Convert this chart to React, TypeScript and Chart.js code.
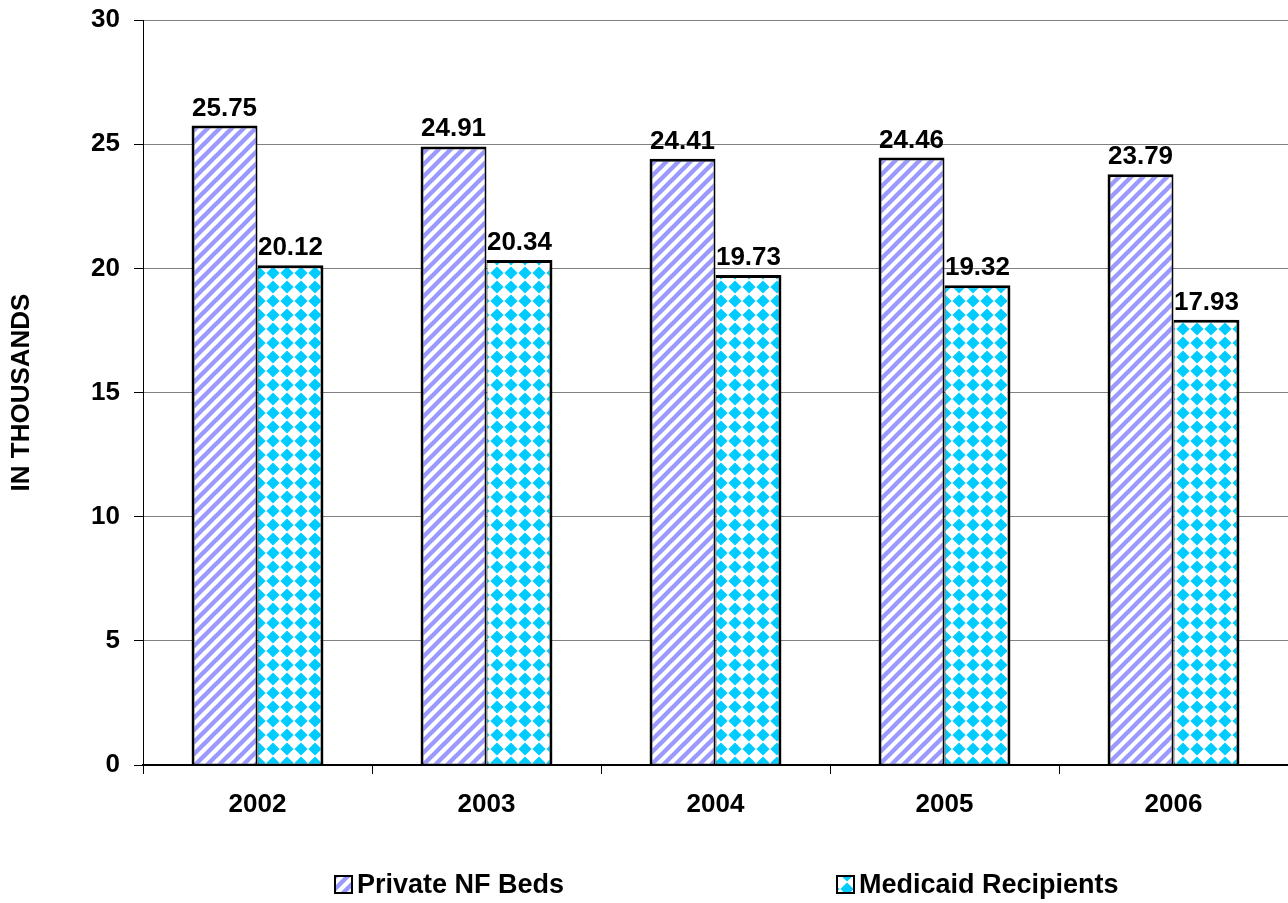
import React, { useEffect, useRef } from "react";
import { Chart, registerables } from "chart.js";

Chart.register(...registerables);

const categories = ["2002", "2003", "2004", "2005", "2006"];
const privateBeds = [25.75, 24.91, 24.41, 24.46, 23.79];
const medicaidRecipients = [20.12, 20.34, 19.73, 19.32, 17.93];
const seriesNames = ["Private NF Beds", "Medicaid Recipients"];
const yAxisTitle = "IN THOUSANDS";
const yMin = 0;
const yMax = 30;
const yStep = 5;

const FONT = 'Arial, "Liberation Sans", sans-serif';
const STRIPE = "#9999FF";
const CYAN = "#00CCFF";

function makeStripePattern(ctx: CanvasRenderingContext2D) {
  const c = document.createElement("canvas");
  const s = 12;
  c.width = s;
  c.height = s;
  const g = c.getContext("2d")!;
  g.fillStyle = "#fff";
  g.fillRect(0, 0, s, s);
  g.strokeStyle = STRIPE;
  g.lineWidth = 4.4;
  const lines = [
    [-s / 2, s / 2, s / 2, -s / 2],
    [-1, s + 1, s + 1, -1],
    [s / 2, s * 1.5, s * 1.5, s / 2],
  ];
  for (const [a, b, c2, d] of lines) {
    g.beginPath();
    g.moveTo(a, b);
    g.lineTo(c2, d);
    g.stroke();
  }
  return ctx.createPattern(c, "repeat")!;
}

function makeDiamondPattern(ctx: CanvasRenderingContext2D) {
  const c = document.createElement("canvas");
  const s = 14;
  c.width = s;
  c.height = s;
  const g = c.getContext("2d")!;
  g.fillStyle = "#fff";
  g.fillRect(0, 0, s, s);
  g.fillStyle = CYAN;
  const h = s / 2;
  const e = 0.4;
  g.beginPath();
  g.moveTo(h, e);
  g.lineTo(s - e, h);
  g.lineTo(h, s - e);
  g.lineTo(e, h);
  g.closePath();
  g.fill();
  return ctx.createPattern(c, "repeat")!;
}

const dataLabelPlugin = {
  id: "dataLabels",
  afterDatasetsDraw(chart: any) {
    const ctx = chart.ctx;
    ctx.save();
    ctx.font = `bold 26px ${FONT}`;
    ctx.fillStyle = "#000";
    ctx.textAlign = "center";
    ctx.textBaseline = "alphabetic";
    chart.data.datasets.forEach((ds: any, i: number) => {
      const meta = chart.getDatasetMeta(i);
      meta.data.forEach((el: any, j: number) => {
        ctx.fillText(Number(ds.data[j]).toFixed(2), el.x, el.y - 10);
      });
    });
    ctx.restore();
  },
};

const legendPlugin = {
  id: "customLegend",
  afterDraw(chart: any) {
    const ctx = chart.ctx;
    const ds = chart.data.datasets;
    const positions = [335, 837];
    const yc = 885;
    ctx.save();
    ds.forEach((d: any, i: number) => {
      const x = positions[i];
      ctx.fillStyle = d.backgroundColor;
      ctx.fillRect(x, yc - 9, 17, 17);
      ctx.strokeStyle = "#000";
      ctx.lineWidth = 2;
      ctx.strokeRect(x, yc - 9, 17, 17);
      ctx.fillStyle = "#000";
      ctx.font = `bold 27px ${FONT}`;
      ctx.textAlign = "left";
      ctx.textBaseline = "middle";
      ctx.fillText(d.label, x + 22, yc + 1);
    });
    ctx.restore();
  },
};

export default function App() {
  const ref = useRef<HTMLCanvasElement | null>(null);

  useEffect(() => {
    const canvas = ref.current!;
    const ctx = canvas.getContext("2d")!;
    const stripe = makeStripePattern(ctx);
    const diamond = makeDiamondPattern(ctx);

    const chart = new Chart(canvas, {
      type: "bar",
      data: {
        labels: categories,
        datasets: [
          {
            label: seriesNames[0],
            data: privateBeds,
            backgroundColor: stripe as any,
            borderColor: "#000",
            borderWidth: { left: 3, top: 3, right: 2, bottom: 1 } as any,
            borderSkipped: false,
            categoryPercentage: 0.576,
            barPercentage: 1,
          },
          {
            label: seriesNames[1],
            data: medicaidRecipients,
            backgroundColor: diamond as any,
            borderColor: "#000",
            borderWidth: { left: 1, top: 3, right: 3, bottom: 1 } as any,
            borderSkipped: false,
            categoryPercentage: 0.576,
            barPercentage: 1,
          },
        ],
      },
      options: {
        responsive: false,
        animation: false,
        layout: { padding: { top: 20, right: 0, left: 0, bottom: 0 } },
        plugins: {
          legend: { display: false },
          tooltip: { enabled: false },
        },
        scales: {
          x: {
            offset: true,
            grid: {
              offset: true,
              drawOnChartArea: false,
              drawTicks: true,
              tickLength: 9,
              color: "#000",
              lineWidth: 1,
            },
            border: { display: true, color: "#000", width: 2 },
            ticks: {
              color: "#000",
              font: { family: FONT, size: 26, weight: "bold" },
              padding: 15,
            },
            afterFit(scale: any) {
              scale.height = 138;
            },
          },
          y: {
            min: yMin,
            max: yMax,
            ticks: {
              stepSize: yStep,
              color: "#000",
              font: { family: FONT, size: 26, weight: "bold", lineHeight: 0.3 },
              padding: 14,
            },
            grid: {
              color: (c: any) => (c.tick && c.tick.value === 0 ? "#000" : "#808080"),
              lineWidth: 1,
              tickColor: "#000",
              tickLength: 9,
            },
            border: { display: true, color: "#000", width: 1 },
            title: {
              display: true,
              text: yAxisTitle,
              color: "#000",
              font: { family: FONT, size: 26, weight: "bold" },
              padding: { top: 6, bottom: 0 },
            },
            afterFit(scale: any) {
              scale.width = 143;
            },
          },
        },
      },
      plugins: [dataLabelPlugin, legendPlugin],
    });
    return () => chart.destroy();
  }, []);

  return (
    <div style={{ position: "absolute", left: 0, top: 0, width: 1288, height: 903, background: "#fff" }}>
      <canvas ref={ref} width={1288} height={903} />
    </div>
  );
}
